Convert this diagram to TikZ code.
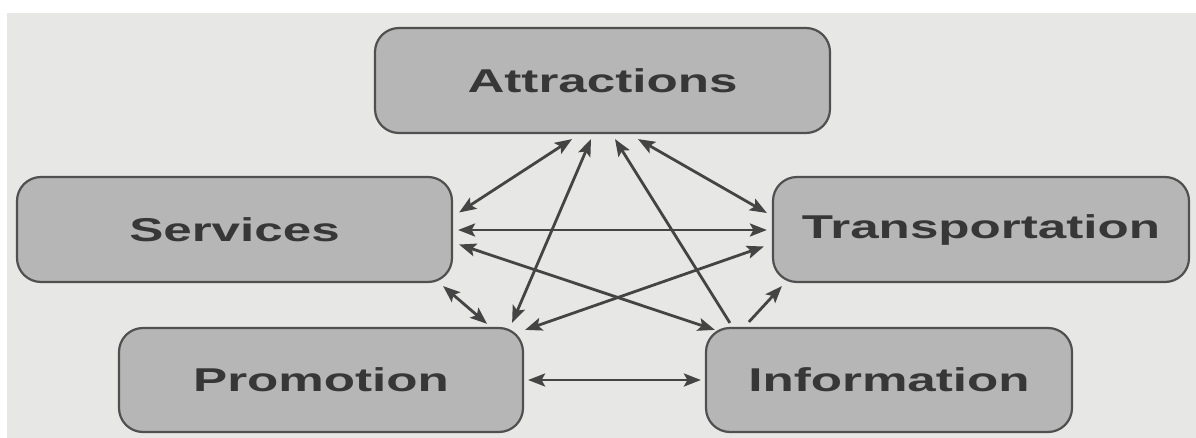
\documentclass[tikz,border=0pt]{standalone}
\usepackage{fontspec}
\setmainfont{Liberation Sans}
\usepackage{graphicx}
\usetikzlibrary{arrows.meta,calc}
\definecolor{paper}{RGB}{231,231,229}
\definecolor{boxfill}{RGB}{182,182,182}
\definecolor{boxline}{RGB}{80,80,80}
\definecolor{ink}{RGB}{68,68,68}
\definecolor{txt}{RGB}{55,55,55}
\tikzset{
  tip/.tip={Stealth[length=17pt,width=13pt,inset=3.5pt]},
}
\begin{document}
\begin{tikzpicture}[x=1pt,y=-1pt,
  box/.style={draw=boxline, line width=2.2pt, fill=boxfill, rounded corners=24pt,
    inner sep=0pt, text=txt, font=\fontsize{33}{33}\selectfont\bfseries},
  link/.style={draw=ink, line width=2.8pt, tip-tip},
  oneway/.style={draw=ink, line width=2.8pt, -tip}]
\useasboundingbox (0,0) rectangle (1196,438);
\fill[white] (0,0) rectangle (1196,438);
\fill[paper] (7,13) rectangle (1196,438);

\node[box, minimum width=455pt, minimum height=105pt] (att) at (602.5,80.5) {\scalebox{1.55}[1]{Attractions}};
\node[box, minimum width=435pt, minimum height=105pt] (ser) at (234.5,229.5) {\scalebox{1.55}[1]{Services}};
\node[box, minimum width=416pt, minimum height=105pt] (tra) at (981,229.5) {\scalebox{1.55}[1]{Transportation}};
\node[box, minimum width=404pt, minimum height=104pt] (pro) at (321,380) {\scalebox{1.55}[1]{Promotion}};
\node[box, minimum width=366pt, minimum height=104pt] (inf) at (889,380) {\scalebox{1.55}[1]{Information}};

% connectors
\draw[link] ($(ser.east)+(6,-17)$) -- ($(att.south)+(-30.5,5)$);
\draw[link] ($(pro.north east)+(-12,-4)$) -- ($(att.south)+(-11.5,5)$);
\draw[oneway] ($(inf.north west)+(25,-4)$) -- ($(att.south)+(12.5,5)$);
\draw[link] ($(att.south)+(35.5,5)$) -- ($(tra.west)+(-5,-16.5)$);
\draw[link] ($(ser.east)+(5,0.5)$) -- ($(tra.west)+(-5,0.5)$);
\draw[link] ($(ser.east)+(6,15)$) -- ($(inf.north west)+(10,3)$);
\draw[link] ($(pro.north east)+(1,3)$) -- ($(tra.west)+(-8,17)$);
\draw[oneway] ($(inf.north west)+(44,-5)$) -- ($(tra.south west)+(10,3)$);
\draw[link] ($(ser.south east)+(-10,3)$) -- ($(pro.north east)+(-37,-3)$);
\draw[link] ($(pro.east)+(4,0)$) -- ($(inf.west)+(-4,0)$);
\end{tikzpicture}
\end{document}
